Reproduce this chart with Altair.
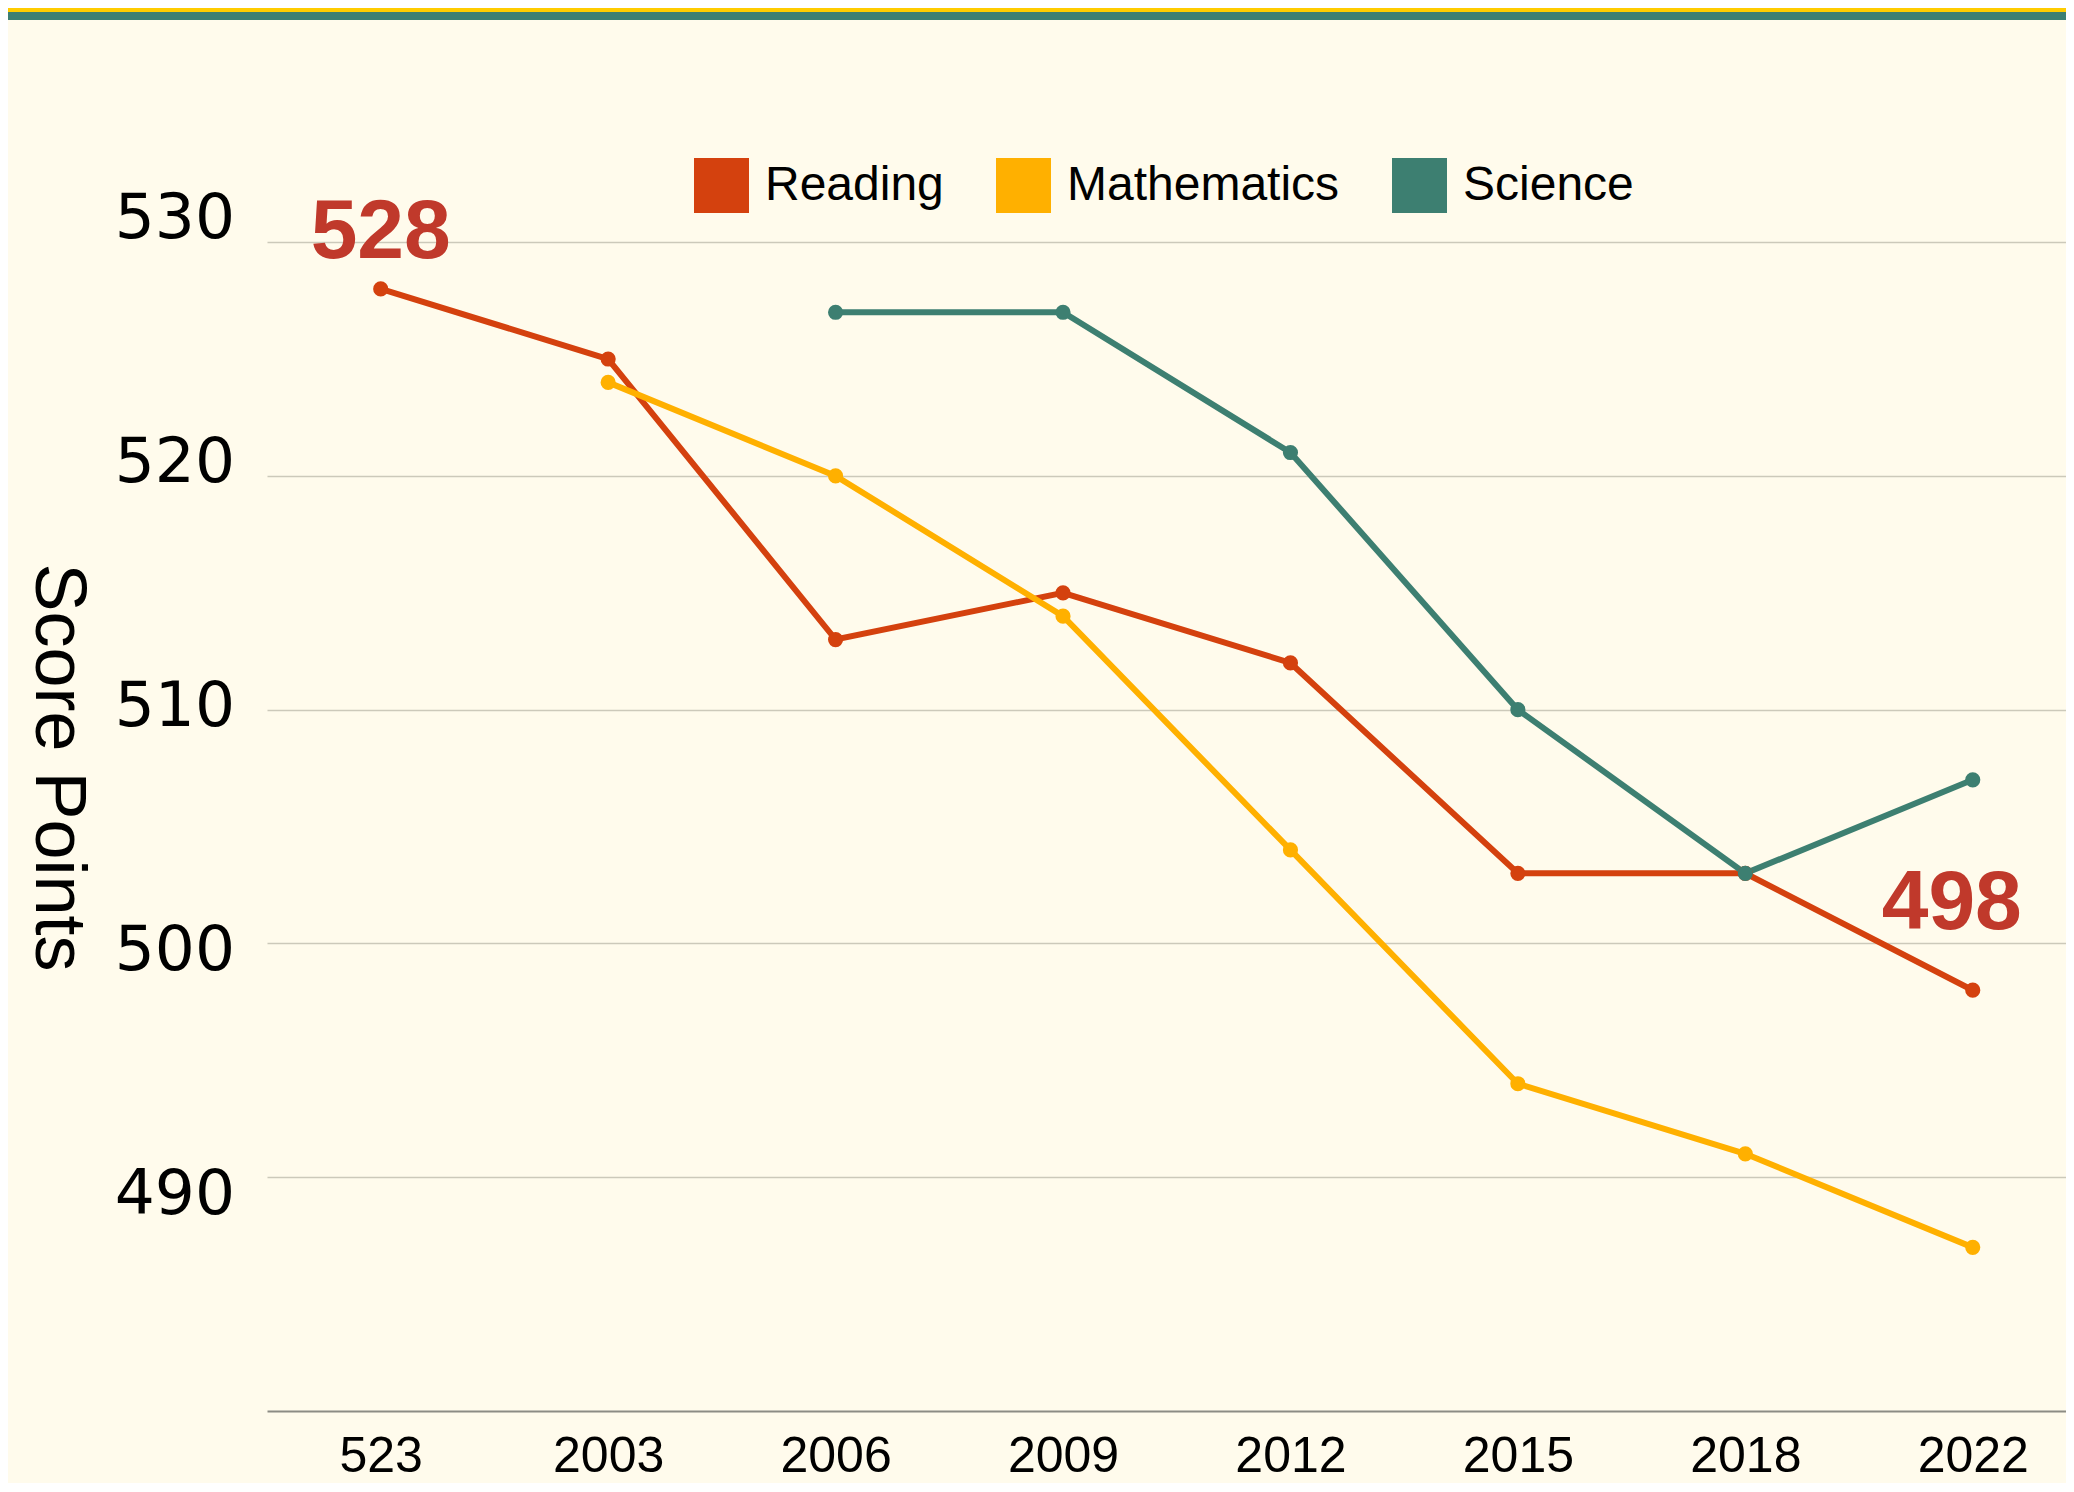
import json
import altair as alt
import pandas as pd

# ---- data ----
year_labels = ["523", "2003", "2006", "2009", "2012", "2015", "2018", "2022"]
reading = [528, 525, 513, 515, 512, 503, 503, 498]
mathematics = [None, 524, 520, 514, 504, 494, 491, 487]
science = [None, None, 527, 527, 521, 510, 503, 507]
subjects = ["Reading", "Mathematics", "Science"]
colors = ["#D4410E", "#FFB000", "#3D7F71"]
y_ticks = [490, 500, 510, 520, 530]
first_label = {"idx": 0, "score": 528, "text": "528"}
last_label = {"idx": 7, "score": 498, "text": "498"}

rows = []
for name, vals in zip(subjects, [reading, mathematics, science]):
    for i, v in enumerate(vals):
        if v is not None:
            rows.append({"idx": i, "score": v, "subject": name})
df = pd.DataFrame(rows)

BG = "#FFFBEC"
FONT = "Liberation Sans"

x_scale = alt.Scale(domain=[-0.5, 7.41], nice=False, zero=False)
y_scale = alt.Scale(domain=[480, 533], nice=False, zero=False)

x_enc = alt.X(
    "idx:Q", scale=x_scale,
    axis=alt.Axis(
        values=list(range(len(year_labels))),
        labelExpr=f"{json.dumps(year_labels)}[datum.value]",
        title=None, grid=False, ticks=False, domain=True,
        domainColor="#8C8C84", domainWidth=2,
        labelFontSize=50, labelFont=FONT, labelColor="#000000",
        labelPadding=20, labelFlush=False, labelOverlap=False,
    ),
)
y_enc = alt.Y(
    "score:Q", scale=y_scale,
    axis=alt.Axis(
        values=y_ticks, labels=False, ticks=False, domain=False,
        grid=True, gridColor="#CCC9BA", gridWidth=1.5,
        title="Score Points", titleAngle=90, titleFontSize=72,
        titleFont=FONT, titleFontWeight="normal", titleColor="#000000",
        titleX=-232, titleY=595, titleAlign="center", titleBaseline="alphabetic",
    ),
)
color_scale = alt.Scale(domain=subjects, range=colors)

lines = alt.Chart(df).mark_line(strokeWidth=6).encode(
    x=x_enc, y=y_enc,
    color=alt.Color("subject:N", scale=color_scale, legend=alt.Legend(
        title=None, orient="none", legendX=427, legendY=-14,
        direction="horizontal",
        symbolType="square", symbolSize=3025, symbolStrokeWidth=0,
        labelFontSize=48, labelFont=FONT, labelColor="#000000",
        labelOffset=16, columnPadding=52, labelLimit=600,
    )),
    detail="subject:N",
)
points = alt.Chart(df).mark_circle(size=230, opacity=1).encode(
    x=alt.X("idx:Q"), y=alt.Y("score:Q"),
    color=alt.Color("subject:N", scale=color_scale),
)

ann_style = dict(font=FONT, fontSize=84, fontWeight="bold", color="#C0392B",
                 align="center", baseline="alphabetic")
ann1 = alt.Chart(pd.DataFrame([first_label])).mark_text(dy=-31, **ann_style).encode(
    x=alt.X("idx:Q"), y=alt.Y("score:Q"), text="text:N")
ann2 = alt.Chart(pd.DataFrame([last_label])).mark_text(dx=-21, dy=-61, **ann_style).encode(
    x=alt.X("idx:Q"), y=alt.Y("score:Q"), text="text:N")

# y tick labels drawn as text, spread slightly relative to the grid as in the reference
ylabels = alt.Chart(pd.DataFrame({"v": y_ticks})).transform_calculate(
    score="510.13 + (datum.v - 510) * 1.0438"
).mark_text(
    align="right", baseline="middle", font="DejaVu Sans", fontSize=63, color="#000000"
).encode(
    x=alt.value(-32),
    y=alt.Y("score:Q"),
    text="v:Q",
)

one = alt.Data(values=[{}])
stripe_y = alt.Chart(one).mark_rule(color="#FFCC00", strokeWidth=4).encode(
    x=alt.value(-259), x2=alt.value(1799), y=alt.value(-162))
stripe_t = alt.Chart(one).mark_rule(color="#3D7F72", strokeWidth=8).encode(
    x=alt.value(-259), x2=alt.value(1799), y=alt.value(-156))

chart = alt.layer(lines, points, ann1, ann2, ylabels, stripe_y, stripe_t).properties(
    width=1799, height=1239,
    autosize=alt.AutoSizeParams(type="none"),
    padding={"left": 259, "top": 164, "right": 0, "bottom": 72},
    background=BG,
).configure_view(stroke=None)

chart.save("out.html", embed_options={"renderer": "svg", "actions": False})
